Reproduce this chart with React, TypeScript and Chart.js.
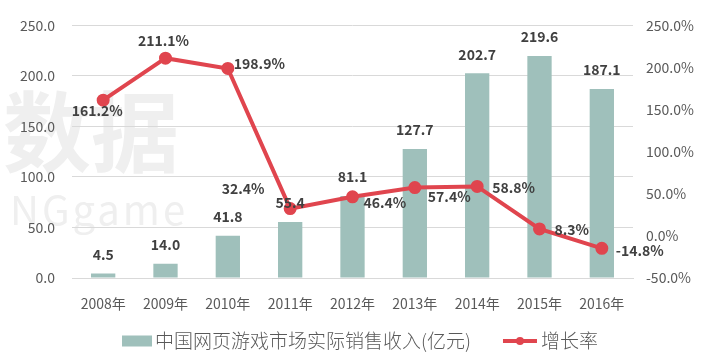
import React, { useEffect, useRef } from "react";
import { Chart, registerables } from "chart.js";

Chart.register(...registerables);

const years = ["2008年", "2009年", "2010年", "2011年", "2012年", "2013年", "2014年", "2015年", "2016年"];
const revenue = [4.5, 14.0, 41.8, 55.4, 81.1, 127.7, 202.7, 219.6, 187.1];
const growth = [161.2, 211.1, 198.9, 32.4, 46.4, 57.4, 58.8, 8.3, -14.8];
const leftTicks = [0, 50, 100, 150, 200, 250];
const rightTicks = [-50, 0, 50, 100, 150, 200, 250];
const revenueName = "中国网页游戏市场实际销售收入(亿元)";
const growthName = "增长率";

// label placement style for the growth-rate labels: [dx, dy, align]
const growthLabelPlacement: [number, number, CanvasTextAlign][] = [
  [-6, 11, "center"],
  [-2, -17, "center"],
  [6, -5, "left"],
  [-47, -20, "center"],
  [11, 6, "left"],
  [13, 9, "left"],
  [15, 1, "left"],
  [15, 1, "left"],
  [14, 2, "left"],
];

const BAR_COLOR = "#9fc0bb";
const LINE_COLOR = "#e0454e";
const TEXT_COLOR = "#595959";
const LABEL_COLOR = "#404040";
const GRID_COLOR = "#d9d9d9";
const FONT = "'Noto Sans CJK SC', 'Noto Sans', sans-serif";

const watermarkPlugin = {
  id: "watermark",
  beforeDraw(chart: any) {
    const ctx = chart.ctx as CanvasRenderingContext2D;
    ctx.save();
    ctx.fillStyle = "#efefef";
    ctx.textAlign = "left";
    ctx.textBaseline = "middle";
    ctx.font = `bold 88px ${FONT}`;
    ctx.fillText("数据", 3, 132);
    ctx.font = `40px ${FONT}`;
    (ctx as any).letterSpacing = "3px";
    ctx.fillText("NGgame", 10, 210);
    ctx.restore();
  },
};

const labelsPlugin = {
  id: "valueLabels",
  afterDatasetsDraw(chart: any) {
    const ctx = chart.ctx as CanvasRenderingContext2D;
    ctx.save();
    ctx.fillStyle = LABEL_COLOR;
    ctx.font = `bold 14px ${FONT}`;
    ctx.textBaseline = "middle";
    chart.data.datasets.forEach((ds: any, di: number) => {
      const meta = chart.getDatasetMeta(di);
      meta.data.forEach((el: any, i: number) => {
        const v = ds.data[i] as number;
        if (ds.type === "line") {
          const [dx, dy, align] = growthLabelPlacement[i];
          ctx.textAlign = align;
          ctx.fillText(v.toFixed(1) + "%", el.x + dx, el.y + dy);
        } else {
          ctx.textAlign = "center";
          ctx.fillText(v.toFixed(1), el.x, el.y - 19);
        }
      });
    });
    ctx.restore();
  },
};

const legendPlugin = {
  id: "customLegend",
  afterDraw(chart: any) {
    const ctx = chart.ctx as CanvasRenderingContext2D;
    ctx.save();
    ctx.font = `300 19px ${FONT}`;
    ctx.textBaseline = "middle";
    ctx.textAlign = "left";
    const y = 341;
    const w1 = ctx.measureText(revenueName).width;
    const w2 = ctx.measureText(growthName).width;
    const total = 30 + 3 + w1 + 32 + 34 + 4 + w2;
    let x = 360 - total / 2;
    ctx.fillStyle = BAR_COLOR;
    ctx.fillRect(x, y - 5.5, 30, 11);
    x += 33;
    ctx.fillStyle = TEXT_COLOR;
    ctx.fillText(revenueName, x, y);
    x += w1 + 32;
    ctx.strokeStyle = LINE_COLOR;
    ctx.lineWidth = 4;
    ctx.beginPath();
    ctx.moveTo(x, y);
    ctx.lineTo(x + 34, y);
    ctx.stroke();
    ctx.fillStyle = LINE_COLOR;
    ctx.beginPath();
    ctx.arc(x + 17, y, 4, 0, Math.PI * 2);
    ctx.fill();
    x += 38;
    ctx.fillStyle = TEXT_COLOR;
    ctx.fillText(growthName, x, y);
    ctx.restore();
  },
};

export default function App() {
  const ref = useRef<HTMLCanvasElement | null>(null);
  useEffect(() => {
    document.body.style.margin = "0";
    const canvas = ref.current!;
    const chart = new Chart(canvas, {
      type: "bar",
      data: {
        labels: years,
        datasets: [
          {
            type: "line",
            label: growthName,
            data: growth,
            yAxisID: "y1",
            borderColor: LINE_COLOR,
            backgroundColor: LINE_COLOR,
            borderWidth: 4,
            pointRadius: 4.5,
            pointBackgroundColor: LINE_COLOR,
            pointBorderColor: LINE_COLOR,
            tension: 0,
            order: 0,
          } as any,
          {
            type: "bar",
            label: revenueName,
            data: revenue,
            yAxisID: "y",
            backgroundColor: BAR_COLOR,
            barPercentage: 0.39,
            categoryPercentage: 1,
            order: 1,
          } as any,
        ],
      },
      options: {
        animation: false,
        responsive: false,
        devicePixelRatio: 1,
        layout: { padding: { top: 22, left: 0, right: 0, bottom: 0 } },
        plugins: { legend: { display: false }, tooltip: { enabled: false } },
        scales: {
          x: {
            grid: { display: false, drawTicks: false },
            border: { display: true, color: GRID_COLOR },
            ticks: { color: TEXT_COLOR, font: { family: FONT, size: 14 }, padding: 17 },
            afterFit: (s: any) => { s.height = 75; },
          },
          y: {
            position: "left",
            min: leftTicks[0],
            max: leftTicks[leftTicks.length - 1],
            afterBuildTicks: (s: any) => { s.ticks = leftTicks.map((v) => ({ value: v })); },
            grid: { color: GRID_COLOR, drawTicks: false },
            border: { display: false },
            ticks: {
              color: TEXT_COLOR,
              font: { family: FONT, size: 14 },
              padding: 17,
              callback: (v: any) => Number(v).toFixed(1),
            },
            afterFit: (s: any) => { s.width = 72; },
          },
          y1: {
            position: "right",
            min: rightTicks[0],
            max: rightTicks[rightTicks.length - 1],
            afterBuildTicks: (s: any) => { s.ticks = rightTicks.map((v) => ({ value: v })); },
            grid: { drawOnChartArea: false, drawTicks: false },
            border: { display: false },
            ticks: {
              color: TEXT_COLOR,
              font: { family: FONT, size: 14 },
              padding: 13,
              callback: (v: any) => Number(v).toFixed(1) + "%",
            },
            afterFit: (s: any) => { s.width = 70; },
          },
        },
      },
      plugins: [watermarkPlugin, labelsPlugin, legendPlugin],
    });
    return () => chart.destroy();
  }, []);
  return (
    <div style={{ width: 703, height: 353, position: "relative" }}>
      <canvas ref={ref} width={703} height={353} />
    </div>
  );
}
